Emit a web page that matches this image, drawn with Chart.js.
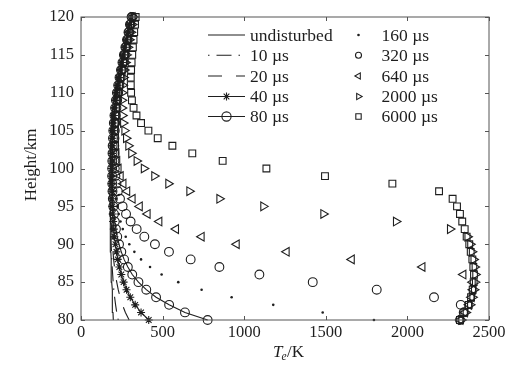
<!DOCTYPE html>
<html>
<head>
<meta charset="utf-8">
<script src="https://cdn.jsdelivr.net/npm/chart.js@4.4.1/dist/chart.umd.min.js"></script>
<style>
  html, body { margin: 0; padding: 0; background: #fff; }
  #wrap { width: 526px; height: 365px; }
</style>
</head>
<body>
<div id="wrap"><canvas id="teChart" width="526" height="365"></canvas></div>
<script>
// heights (km) and electron temperature profiles (K)
const heights = [80,81,82,83,84,85,86,87,88,89,90,91,92,93,94,95,96,97,98,99,100,
                 101,102,103,104,105,106,107,108,109,110,111,112,113,114,115,116,117,118,119,120];

const undisturbed = [198,196,194,192,190,188,186,185,184,183,182,181,180,179,178,178,177,177,177,177,
                     178,179,180,182,184,186,189,193,197,202,209,217,226,235,244,253,263,273,283,293,303];
const t10 = [228,219,212,206,201,197,194,191,189,187,185,184,183,182,181,180,180,179,179,179,
             180,181,182,184,186,188,191,195,199,204,211,219,228,237,246,255,265,275,285,295,305];
const t20 = [295,272,254,240,228,219,211,205,200,196,193,190,188,186,185,184,183,182,182,182,
             183,183,184,186,188,190,193,197,201,206,213,221,230,239,248,257,267,277,287,296,306];
const t40 = [415,368,332,302,279,261,247,235,225,217,211,205,201,197,194,192,190,189,188,188,
             188,189,190,191,193,195,198,202,206,211,217,225,233,242,251,260,269,279,289,298,308];
const t80 = [776,637,540,460,400,352,314,287,264,247,233,222,214,207,202,198,195,193,192,191,
             191,192,193,194,196,198,201,205,209,214,220,228,236,245,254,263,272,282,291,300,310];
const t160 = [1795,1481,1178,923,739,596,494,423,368,327,296,274,256,242,231,222,215,210,206,203,
              201,200,200,201,202,204,207,210,214,219,225,232,240,249,257,266,275,284,293,302,312];
const t320 = [2322,2345,2327,2163,1812,1420,1093,848,672,539,453,388,341,304,276,255,239,226,217,211,
              207,205,204,204,205,207,210,213,217,222,228,235,243,251,260,268,277,286,295,304,314];
const t640 = [2325,2352,2378,2393,2402,2400,2343,2092,1659,1260,954,739,582,480,408,360,316,283,260,243,
              230,222,217,214,213,213,214,217,221,226,232,239,247,255,263,271,280,289,298,307,316];
const t2000 = [2330,2357,2384,2398,2408,2414,2416,2412,2405,2395,2385,2368,2261,1930,1485,1117,848,664,535,449,
               385,341,308,290,276,266,258,253,250,250,252,255,260,265,272,279,287,296,305,313,322];
const t6000 = [2322,2349,2376,2390,2400,2406,2408,2404,2398,2388,2379,2363,2351,2336,2322,2304,2277,2194,1908,1495,
               1136,868,682,560,470,413,368,340,322,312,307,305,305,307,310,314,318,322,326,331,335];

const xTicks = [0, 500, 1000, 1500, 2000, 2500];
const yTicks = [80, 85, 90, 95, 100, 105, 110, 115, 120];

const ink = '#1e1e1e';
const serif = '"Liberation Serif", "Times New Roman", serif';

function pts(vals) {
    return vals.map((t, i) => ({ x: t, y: heights[i] }));
}

const lineSet = (label, vals, dash) => ({
    label, data: pts(vals), showLine: true, borderColor: ink, borderWidth: 1.1,
    borderDash: dash, pointRadius: 0, clip: 10
});
const markSet = (label, vals, style, r, extra) => Object.assign({
    label, data: pts(vals), showLine: false, pointStyle: style, pointRadius: r,
    pointBorderColor: ink, pointBackgroundColor: 'rgba(0,0,0,0)', pointBorderWidth: 1.1,
    borderColor: ink, borderWidth: 1.1, clip: 10
}, extra || {});

const datasets = [
    lineSet('undisturbed', undisturbed, []),
    lineSet('10 µs', t10, [1.5, 7, 15, 7]),
    lineSet('20 µs', t20, [14, 14]),
    markSet('40 µs', t40, 'star', 4, { showLine: true }),
    markSet('80 µs', t80, 'circle', 4.4, { showLine: true }),
    markSet('160 µs', t160, 'circle', 1.3, { pointBackgroundColor: ink, pointBorderWidth: 0 }),
    markSet('320 µs', t320, 'circle', 4.4),
    markSet('640 µs', t640, 'triangle', 5, { pointRotation: -90 }),
    markSet('2000 µs', t2000, 'triangle', 5, { pointRotation: 90 }),
    markSet('6000 µs', t6000, 'rect', 4.8)
];

// legend sample sizes (right column smaller than in the plot)
const legendMark = {
    '40 µs': { style: 'star', r: 4, rot: 0 },
    '80 µs': { style: 'circle', r: 4.6, rot: 0 },
    '160 µs': { style: 'circle', r: 1.3, rot: 0, fill: true },
    '320 µs': { style: 'circle', r: 3, rot: 0 },
    '640 µs': { style: 'triangle', r: 3.6, rot: -90 },
    '2000 µs': { style: 'triangle', r: 3.6, rot: 90 },
    '6000 µs': { style: 'rect', r: 3.8, rot: 0 }
};

function mark(ctx, m, x, y) {
    ctx.save();
    ctx.strokeStyle = ink;
    ctx.fillStyle = m.fill ? ink : 'rgba(0,0,0,0)';
    ctx.lineWidth = 1.1;
    ctx.setLineDash([]);
    Chart.helpers.drawPoint(ctx, { pointStyle: m.style, radius: m.r, rotation: m.rot, borderWidth: m.fill ? 0 : 1.1 }, x, y);
    ctx.restore();
}

const framePlugin = {
    id: 'frame',
    afterDraw(c) {
        const { ctx, chartArea: a, scales } = c;
        ctx.save();
        ctx.strokeStyle = '#555';
        ctx.lineWidth = 1;
        ctx.strokeRect(a.left, a.top, a.right - a.left, a.bottom - a.top);
        ctx.beginPath();
        xTicks.forEach(v => {
            const px = Math.round(scales.x.getPixelForValue(v)) + 0.5;
            ctx.moveTo(px, a.bottom); ctx.lineTo(px, a.bottom - 4);
            ctx.moveTo(px, a.top); ctx.lineTo(px, a.top + 4);
        });
        yTicks.forEach(v => {
            const py = Math.round(scales.y.getPixelForValue(v)) + 0.5;
            ctx.moveTo(a.left, py); ctx.lineTo(a.left + 4, py);
            ctx.moveTo(a.right, py); ctx.lineTo(a.right - 4, py);
        });
        ctx.stroke();

        // axis titles
        ctx.fillStyle = ink;
        ctx.font = '17px ' + serif;
        ctx.textAlign = 'center';
        ctx.textBaseline = 'middle';
        ctx.translate(32, 165);
        ctx.rotate(-Math.PI / 2);
        ctx.fillText('Height/km', 0, 0);
        ctx.restore();

        ctx.save();
        ctx.fillStyle = ink;
        ctx.textAlign = 'left';
        ctx.textBaseline = 'alphabetic';
        let x = 273;
        ctx.font = 'italic 17px ' + serif;
        ctx.fillText('T', x, 356.5);
        x += ctx.measureText('T').width - 1;
        ctx.font = 'italic 11.5px ' + serif;
        ctx.fillText('e', x, 360);
        x += ctx.measureText('e').width + 0.5;
        ctx.font = '17px ' + serif;
        ctx.fillText('/K', x, 356.5);
        ctx.restore();
    }
};

const legendPlugin = {
    id: 'twoColLegend',
    afterDraw(c) {
        const ctx = c.ctx;
        const rows = [35, 55.3, 76, 96.5, 116.5];
        ctx.save();
        ctx.font = '17.5px ' + serif;
        ctx.fillStyle = ink;
        ctx.textAlign = 'left';
        ctx.textBaseline = 'middle';
        c.data.datasets.forEach((ds, i) => {
            const y = rows[i % 5];
            if (i < 5) {
                ctx.save();
                ctx.strokeStyle = ink;
                ctx.lineWidth = 1.1;
                ctx.setLineDash(ds.borderDash || []);
                ctx.beginPath();
                ctx.moveTo(208, y);
                ctx.lineTo(245, y);
                ctx.stroke();
                ctx.restore();
                if (legendMark[ds.label]) mark(ctx, legendMark[ds.label], 226.5, y);
                ctx.fillText(ds.label, 250, y + 1);
            } else {
                mark(ctx, legendMark[ds.label], 358.5, y);
                ctx.fillText(ds.label, 381.5, y + 1);
            }
        });
        ctx.restore();
    }
};

new Chart(document.getElementById('teChart'), {
    type: 'scatter',
    data: { datasets },
    options: {
        responsive: false,
        animation: false,
        events: [],
        layout: { padding: { top: 17, right: 37, left: 0, bottom: 0 } },
        plugins: { legend: { display: false }, tooltip: { enabled: false } },
        elements: { line: { tension: 0 } },
        scales: {
            x: {
                type: 'linear', min: 0, max: 2500,
                afterBuildTicks: s => { s.ticks = xTicks.map(v => ({ value: v })); },
                afterFit: s => { s.height = 45; },
                grid: { display: false, drawTicks: false },
                border: { display: false },
                ticks: { color: ink, font: { family: serif, size: 16.5 }, padding: 3, maxRotation: 0,
                         callback: v => String(v) }
            },
            y: {
                type: 'linear', min: 80, max: 120,
                afterBuildTicks: s => { s.ticks = yTicks.map(v => ({ value: v })); },
                afterFit: s => { s.width = 81; },
                grid: { display: false, drawTicks: false },
                border: { display: false },
                ticks: { color: ink, font: { family: serif, size: 16.5 }, padding: 7,
                         callback: v => String(v) }
            }
        }
    },
    plugins: [framePlugin, legendPlugin]
});
</script>
</body>
</html>
